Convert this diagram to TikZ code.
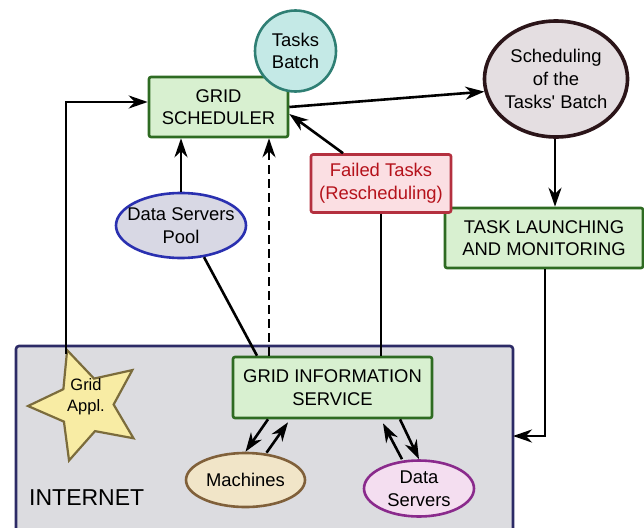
\documentclass[tikz,border=0pt]{standalone}
\usepackage{fontspec}
\setmainfont{Liberation Sans}
\newfontfamily\plainfont{Liberation Sans}
\usetikzlibrary{shapes.geometric,arrows.meta}
\definecolor{gfill}{HTML}{D8F0D0}
\definecolor{gline}{HTML}{2E6B22}
\definecolor{tfill}{HTML}{C4E9E6}
\definecolor{tline}{HTML}{2F7F74}
\definecolor{bfill}{HTML}{E4DEE1}
\definecolor{bline}{HTML}{2B1519}
\definecolor{ffill}{HTML}{FBDFE3}
\definecolor{fline}{HTML}{B4303F}
\definecolor{ftext}{HTML}{B5121B}
\definecolor{pfill}{HTML}{D8D8E4}
\definecolor{pline}{HTML}{2A30B0}
\definecolor{ifill}{HTML}{DCDCE0}
\definecolor{iline}{HTML}{2C2A66}
\definecolor{sfill}{HTML}{F8ECA4}
\definecolor{sline}{HTML}{7B6C3C}
\definecolor{mfill}{HTML}{F1E5C8}
\definecolor{mline}{HTML}{80603A}
\definecolor{dfill}{HTML}{F4DEF0}
\definecolor{dline}{HTML}{8A2A8C}
\tikzset{
  txt/.style={font=\plainfont\fontsize{18.4}{22.6}\selectfont, align=center, inner sep=0pt},
  gbox/.style={txt, draw=gline, fill=gfill, line width=2.6pt, rounded corners=2pt},
  ell/.style={txt, ellipse, line width=2.6pt},
  conn/.style={line width=2.6pt},
  arr/.style={conn, -{Stealth[length=19pt,width=13pt,inset=6pt]}},
}
\begin{document}
\begin{tikzpicture}[x=1pt,y=-1pt]
\useasboundingbox (0,0) rectangle (644,527);
% internet area
\node[draw=iline, fill=ifill, line width=2.6pt, rounded corners=3pt, minimum width=497pt, minimum height=200pt, inner sep=0pt] (inet) at (264.5,446) {};
\node[txt, font=\plainfont\fontsize{23}{26}\selectfont, anchor=base west] (inetlbl) at (29,505) {INTERNET};
% boxes
\node[gbox, minimum width=139pt, minimum height=60pt] (sched) at (218.5,107) {GRID\\SCHEDULER};
\node[txt, circle, draw=tline, fill=tfill, line width=2.6pt, minimum size=81pt] (tb) at (295.5,51) {Tasks\\Batch};
\node[ell, draw=bline, fill=bfill, line width=3.6pt, inner xsep=-3pt, minimum width=143pt, minimum height=116pt] (bs) at (556,79) {Scheduling\\of the\\Tasks' Batch};
\node[gbox, minimum width=198pt, minimum height=60pt] (task) at (544,238) {TASK LAUNCHING\\AND MONITORING};
\node[txt, draw=fline, fill=ffill, text=ftext, line width=2.6pt, rounded corners=2pt, minimum width=140pt, minimum height=58pt] (failed) at (381,183.5) {Failed Tasks\\(Rescheduling)};
\node[ell, draw=pline, fill=pfill, inner xsep=-8pt, minimum width=130pt, minimum height=65pt] (dsp) at (181,225.5) {Data Servers\\Pool};
\node[gbox, minimum width=199pt, minimum height=61pt] (gis) at (332.5,387.5) {GRID INFORMATION\\SERVICE};
\node[ell, draw=mline, fill=mfill, minimum width=119pt, minimum height=54pt] (mach) at (245.5,480) {Machines};
\node[ell, draw=dline, fill=dfill, inner ysep=-1pt, minimum width=110pt, minimum height=56pt] (ds) at (419,488.5) {Data\\Servers};
\node[star, star points=5, star point ratio=2.1, minimum size=116pt, inner sep=0pt, draw=sline, fill=sfill, line width=2.2pt, rotate=19] (ga) at (86,405) {};
\node[txt, font=\plainfont\fontsize{16.5}{21}\selectfont] (galbl) at (86,397) {Grid\\Appl.};
% connectors
\coordinate (gatop) at (66,354);
\draw[arr] (gatop) |- ([yshift=5pt]sched.west);
\draw[arr] (sched.east) -- (bs.190);
\draw[arr] ([xshift=-1pt]bs.south) -- ([xshift=-1pt]bs.south |- task.north);
\coordinate (tin) at (513,436);
\draw[arr] ([xshift=1pt]task.south) |- (tin);
\draw[arr] ([xshift=-38pt]failed.north) -- ([yshift=-7pt]sched.east);
\draw[conn] (failed.south) -- (failed.south |- gis.north);
\draw[arr] (dsp.north) -- (dsp.north |- sched.south);
\draw[conn] (dsp.-54) -- ([xshift=-75.5pt]gis.north);
\draw[arr, dashed, dash pattern=on 9pt off 5pt] ([xshift=-63.5pt]gis.north) -- ([xshift=-63.5pt]gis.north |- sched.south);
\draw[arr] ([xshift=-64.5pt]gis.south) -- (mach.north);
\draw[arr] ([xshift=21pt,yshift=-1pt]mach.north) -- ([xshift=-44.5pt,yshift=-3pt]gis.south);
\draw[arr] ([xshift=-17pt]ds.north) -- ([xshift=50.5pt,yshift=-4pt]gis.south);
\draw[arr] ([xshift=67.5pt]gis.south) -- (ds.north);
\end{tikzpicture}
\end{document}
